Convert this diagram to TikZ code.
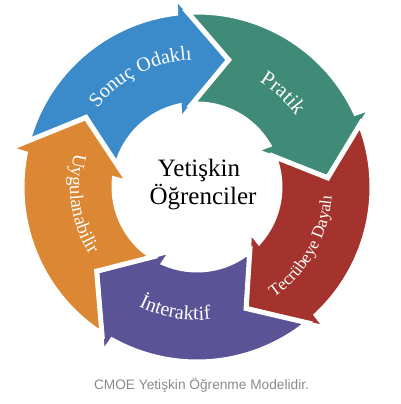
\documentclass[tikz,border=0pt]{standalone}
\usepackage{fontspec}
\setmainfont{Liberation Serif}
\newfontfamily\capfont{Liberation Sans}
\usetikzlibrary{decorations.text}
\definecolor{cblue}{HTML}{3B8BCB}
\definecolor{cteal}{HTML}{3F8B78}
\definecolor{cred}{HTML}{A3332C}
\definecolor{cpurple}{HTML}{5A5497}
\definecolor{corange}{HTML}{DC8734}
\definecolor{capgray}{HTML}{8A8A8A}
\tikzset{
  ringarrow/.style={fill=#1, draw=white, line width=5pt, line join=miter},
  arclabel/.style={decorate, decoration={text along path, text align=center, text color=white, text={#1}}}
}
\newcommand\cycarrow[2]{%
  \draw[ringarrow=#2, shift={(C)}]
    (#1+89.1:175) arc[start angle=#1+89.1, end angle=#1+21.0, radius=175]
    -- (#1+20.5:192) -- (#1:131) -- (#1+28.6:68) -- (#1+26.4:83)
    arc[start angle=#1+26.4, end angle=#1+89.5, radius=83]
    -- (#1+72:131) -- cycle;}
\begin{document}
\begin{tikzpicture}[x=1pt,y=1pt]
\useasboundingbox (0,0) rectangle (400,404);
\coordinate (C) at (197,217);
\cycarrow{76}{cblue}
\cycarrow{4}{cteal}
\cycarrow{-68}{cred}
\cycarrow{-140}{cpurple}
\cycarrow{-212}{corange}
% labels along the arcs
\path[arclabel={|\fontsize{20}{24}\selectfont|Sonuç Odaklı}] (C) ++(146:127) arc[start angle=146, end angle=88, radius=127];
\path[arclabel={|\fontsize{21}{24}\selectfont|Pratik}] (C) ++(75:122) arc[start angle=75, end angle=20, radius=122];
\path[arclabel={|\fontsize{17}{20}\selectfont|Tecrübeye Dayalı}] (C) ++(-62:135) arc[start angle=-62, end angle=3, radius=135];
\path[arclabel={|\fontsize{20}{24}\selectfont|İnteraktif}] (C) ++(-132:133) arc[start angle=-132, end angle=-68, radius=133];
\path[arclabel={|\fontsize{19}{22}\selectfont|Uygulanabilir}] (C) ++(158:127) arc[start angle=158, end angle=219, radius=127];
% centre text
\node[anchor=base, font=\fontsize{25}{28}\selectfont] (t1) at (199,227) {Yetişkin};
\node[anchor=base, font=\fontsize{25}{28}\selectfont] (t2) at (203,199) {Öğrenciler};
% caption
\node[anchor=base, text=capgray, font=\capfont\fontsize{13.7}{16}\selectfont] (cap) at (201.5,14) {CMOE Yetişkin Öğrenme Modelidir.};
\end{tikzpicture}
\end{document}
